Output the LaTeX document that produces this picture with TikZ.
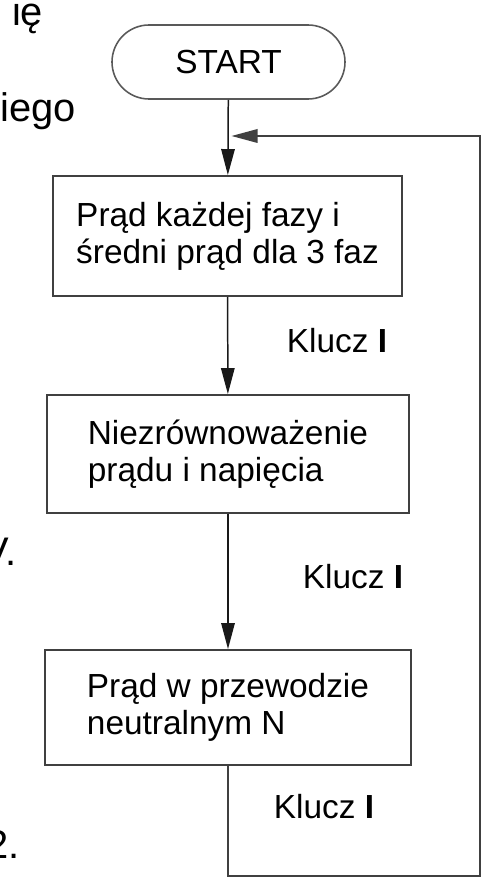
\documentclass[tikz,border=0pt]{standalone}
\usepackage{fontspec}
\setmainfont{Liberation Sans}
\usetikzlibrary{arrows.meta}

\begin{document}
\begin{tikzpicture}[
  font=\fontsize{19}{21}\selectfont,
  >={Triangle[width=0.27cm,length=0.52cm]},
  term/.style={
    rectangle, rounded corners=0.74cm,
    draw=black!65, line width=0.9pt,
    minimum width=4.66cm, minimum height=1.48cm,
    inner sep=0pt
  },
  proc/.style={
    rectangle,
    draw=black!75, line width=1.1pt,
    align=left, inner sep=0pt
  },
  arr/.style={->, line width=0.85pt, black!90},
  back/.style={->, line width=1pt, black!75},
  lbl/.style={anchor=base west, inner sep=0pt},
  frag/.style={anchor=base east, inner sep=0pt, font=\fontsize{22.7}{26}\selectfont}
]
\useasboundingbox (0,0) rectangle (9.86,-17.76);

%% ── Cut-off text at the left margin ─────────────────────────────────
\begin{scope}
  \clip (0,0) rectangle (9.86,-17.76);
  \node[frag] (fa) at (0.87,-0.52) {ię};
  \node[frag] (fb) at (1.53,-2.44) {iego};
  \node[frag] (fc) at (0.34,-11.30) {V.};
  \node[frag] (fd) at (0.40,-17.16) {2.};
\end{scope}

%% ── Start ───────────────────────────────────────────────────────────
\node[term] (start) at (4.57,-1.24) {START};
\coordinate (merge) at (4.63,-2.72);

%% ── Measurement steps ──────────────────────────────────────────────
\node[proc, minimum width=6.98cm, minimum height=2.40cm] (n1) at (4.55,-4.72) {
  Prąd każdej fazy i\\
  średni prąd dla 3 faz
};
\draw[arr] (start) -- (n1);

\node[proc, minimum width=7.24cm, minimum height=2.36cm] (n2) at (4.56,-9.08) {
  Niezrównoważenie\\
  prądu i napięcia
};
\draw[arr] (n1) -- (n2);
\node[lbl] (k1) at (5.73,-7.04) {Klucz \textbf{I}};

\node[proc, minimum width=7.32cm, minimum height=2.30cm] (n3) at (4.56,-14.15) {
  Prąd w przewodzie\\
  neutralnym N
};
\draw[arr] (n2) -- (n3);
\node[lbl] (k2) at (6.05,-11.76) {Klucz \textbf{I}};

%% ── Loop back to the top ───────────────────────────────────────────
\coordinate (corner) at (9.60,-17.52);
\draw[back] (n3.south) |- (corner) |- (merge);
\node[lbl] (k3) at (5.47,-16.36) {Klucz \textbf{I}};

\end{tikzpicture}
\end{document}
